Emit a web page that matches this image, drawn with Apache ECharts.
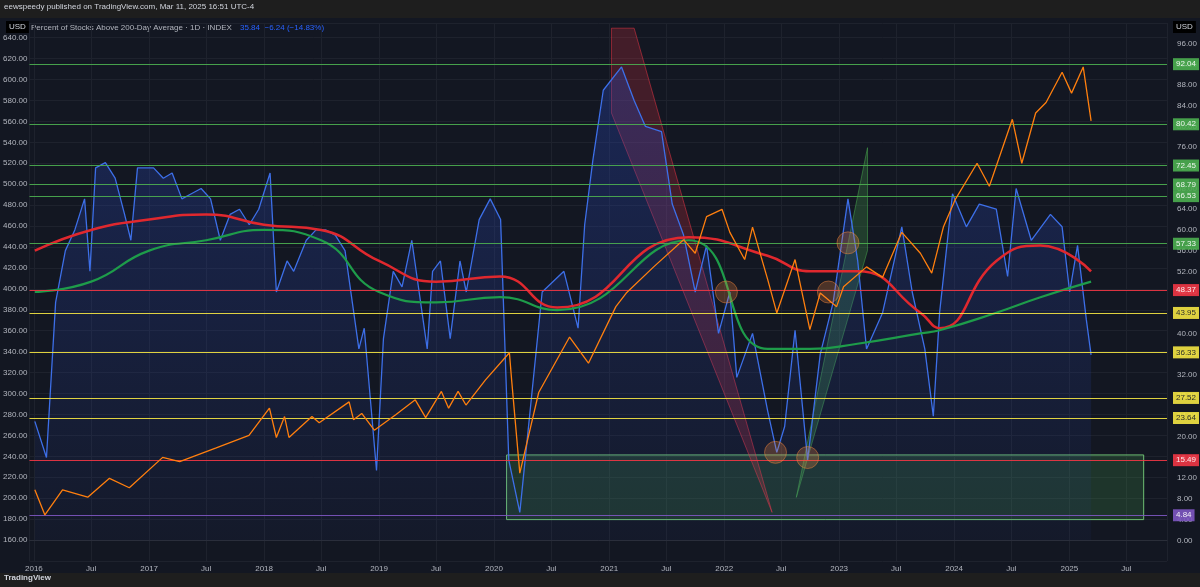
<!DOCTYPE html>
<html>
<head>
    <meta charset="UTF-8">
    <title></title>
    <script src="https://cdn.jsdelivr.net/npm/echarts@6/dist/echarts.min.js"></script>
    <style>
        body { margin: 0; background: #1e1e1e; }
        #main { width: 1200px; height: 587px; }
    </style>
</head>
<body>
<div id="main"></div>
<script>
    // percent of stocks above 200 day average (right axis)
    var breadthDates = ['2016-01-04','2016-02-10','2016-03-10','2016-04-10','2016-05-10','2016-06-10','2016-06-27','2016-07-15','2016-08-15','2016-09-15','2016-10-15','2016-11-04','2016-11-25','2016-12-15',
        '2017-01-15','2017-02-15','2017-03-15','2017-04-15','2017-05-15','2017-06-15','2017-07-15','2017-08-15','2017-09-15','2017-10-15','2017-11-15','2017-12-15',
        '2018-01-20','2018-02-09','2018-03-15','2018-04-05','2018-05-15','2018-06-15','2018-07-15','2018-08-15','2018-09-15','2018-10-29','2018-11-15','2018-12-24',
        '2019-01-15','2019-02-15','2019-03-15','2019-04-15','2019-06-03','2019-06-20','2019-07-15','2019-08-15','2019-09-15','2019-10-05','2019-11-15','2019-12-20',
        '2020-01-22','2020-02-17','2020-03-23','2020-06-02','2020-08-10','2020-09-24','2020-10-15','2020-11-10','2020-12-13',
        '2021-02-09','2021-03-21','2021-04-26','2021-06-16','2021-07-20','2021-08-25','2021-10-01','2021-11-06','2021-12-14',
        '2022-01-19','2022-02-10','2022-04-01','2022-05-19','2022-06-17','2022-07-12','2022-08-14','2022-09-23','2022-11-02','2022-12-13',
        '2023-01-29','2023-03-01','2023-03-29','2023-05-19','2023-07-19','2023-08-21','2023-09-30','2023-10-27','2023-11-16','2023-12-27',
        '2024-02-09','2024-03-21','2024-05-14','2024-06-19','2024-07-16','2024-09-02','2024-11-02','2024-12-09',
        '2025-01-02','2025-01-27','2025-02-24','2025-03-11'];
    var breadthValues = [23,16,46,56,60,66,52,72,73,70,63,58,72,72,
        72,70,71,66,67,68,66,58,63,64,61,64,
        71,48,54,52,58,60,60,59,56,37,41,13.5,
        39,52,49,58,37,52,54,39,54,48,62,66,
        62,15.5,5.4,48,52,41,61,73.5,87,
        91.5,85,80,79,65,59,48,57,40,
        48,31.5,40,25,17,22,40.6,15.5,36,46,
        66,54,37,44,60.6,48,37,24,44,67,
        60.6,65,64,51,68,58,63,60.6,
        48,57,42.6,35.84];

    // moving averages of breadth
    var maDates = ['2016-01-04','2016-07-01','2017-01-01','2017-07-01','2018-01-01','2018-07-01','2019-01-01','2019-07-01','2020-01-20','2020-07-20','2021-09-10','2022-05-19','2022-10-01','2023-02-28','2023-09-16','2023-11-16','2024-05-14','2024-10-01','2025-03-11'];
    var redMaValues = [56,60,62,63,61,60,54,50,51,45,58.6,55,52,52,44,41,54,57,52];
    var greenMaValues = [48,50,56,58,60,58,48,46,47,44.5,58,37,37,38,40,40.6,44,47,50];

    // index price (left axis)
    var priceDates = ['2016-01-04','2016-02-05','2016-04-01','2016-06-20','2016-08-28','2016-10-30','2017-02-13','2017-04-08','2017-08-02','2017-11-14',
        '2018-01-18','2018-02-09','2018-03-07','2018-03-21','2018-06-02','2018-06-25','2018-09-28','2018-10-12','2018-11-07','2018-12-17',
        '2019-02-24','2019-04-26','2019-05-29','2019-07-18','2019-08-10','2019-09-09','2019-10-04','2019-12-05',
        '2020-02-19','2020-02-26','2020-03-23','2020-05-22','2020-08-28','2020-10-27',
        '2021-01-22','2021-02-24','2021-05-22','2021-08-25','2021-10-01','2021-11-06','2021-12-25',
        '2022-01-19','2022-03-07','2022-04-01','2022-05-19','2022-06-17','2022-08-14','2022-09-30','2022-11-02','2022-12-24',
        '2023-01-15','2023-03-29','2023-05-19','2023-07-19','2023-09-16','2023-10-22','2023-11-28',
        '2024-01-04','2024-03-14','2024-04-22','2024-07-04','2024-08-03','2024-09-16','2024-10-19','2024-12-09',
        '2025-01-08','2025-02-14','2025-03-11'];
    var priceValues = [208,184,208,201,219,210,239,235,248,260,
        286,258,278,258,278,272,292,275,281,265,
        280,294,277,302,286,302,289,313,
        339,313,224,301,354,329,
        383,396,421,447,434,469,476,
        454,428,459,409,377,428,361,396,383,
        402,421,411,454,434,415,459,
        485,520,498,562,520,568,578,607,
        587,612,560.58];

    // level lines
    var greenLevels = [92.04,80.42,72.45,68.79,66.53,57.33];
    var redLevels = [48.37,15.49];
    var yellowLevels = [43.95,36.33,27.52,23.64];
    var purpleLevels = [4.84];

    // drawn triangles and circles
    var redTriangle = [['2021-01-08',99],['2021-03-21',99],['2022-06-02',5.4],['2021-01-08',82.6]];
    var greenTriangle = [['2022-08-18',8.3],['2023-04-01',75.9],['2023-04-01',56]];
    var circles = [['2022-01-08',48],['2022-06-13',17],['2022-09-23',16],['2022-11-28',48],['2023-01-29',57.5]];

    function pairs(d, v) { return d.map(function (x, i) { return [x, v[i]]; }); }

    function levelLines(vals, color) {
        return vals.map(function (v) {
            return {
                yAxis: v,
                lineStyle: { color: color, width: 1.2, type: 'solid', opacity: 0.9 },
                label: {
                    position: 'end', formatter: v.toFixed(2), color: color === '#f5e642' ? '#131722' : '#fff',
                    backgroundColor: color, padding: [2, 3], fontSize: 8, distance: 6
                }
            };
        });
    }

    function polygon(pts, fill, stroke) {
        return {
            type: 'custom', yAxisIndex: 1, silent: true, z: 1,
            data: [0],
            renderItem: function (params, api) {
                return {
                    type: 'polygon',
                    shape: { points: pts.map(function (p) { return api.coord([+new Date(p[0]), p[1]]); }) },
                    style: { fill: fill, stroke: stroke, lineWidth: 1 }
                };
            }
        };
    }

    var chart = echarts.init(document.getElementById('main'));
    chart.setOption({
        backgroundColor: '#1e1e1e',
        animation: false,
        graphic: [
            { type: 'rect', shape: { x: 0, y: 18, width: 1200, height: 555 }, style: { fill: '#131722' }, z: -10 },
            { type: 'text', left: 4, top: 3, style: { text: 'eewspeedy published on TradingView.com, Mar 11, 2025 16:51 UTC-4', fill: '#d1d4dc', font: '8px "Liberation Sans"' } },
            { type: 'text', left: 31, top: 24, style: { text: 'Percent of Stocks Above 200-Day Average · 1D · INDEX', fill: '#b2b5be', font: '8px "Liberation Sans"' } },
            { type: 'text', left: 240, top: 24, style: { text: '35.84  −6.24 (−14.83%)', fill: '#2962ff', font: '8px "Liberation Sans"' } },
            { type: 'text', left: 6, top: 21, style: { text: 'USD', fill: '#d1d4dc', font: '8px "Liberation Sans"', backgroundColor: '#000', padding: [2, 3] } },
            { type: 'text', left: 1173, top: 21, style: { text: 'USD', fill: '#d1d4dc', font: '8px "Liberation Sans"', backgroundColor: '#000', padding: [2, 3] } },
            { type: 'text', left: 4, top: 574, style: { text: 'TradingView', fill: '#d1d4dc', font: 'bold 8px "Liberation Sans"' } }
        ],
        grid: { left: 28, right: 32, top: 23, bottom: 26 },
        xAxis: {
            type: 'time',
            min: '2015-12-18', max: '2025-11-07',
            splitNumber: 20,
            axisLine: { lineStyle: { color: '#2a2e39' } },
            axisTick: { show: false },
            axisLabel: {
                color: '#b2b5be', fontSize: 8, margin: 4,
                formatter: function (v) {
                    var d = new Date(v);
                    if (d.getMonth() === 0) return String(d.getFullYear());
                    if (d.getMonth() === 6) return 'Jul';
                    return '';
                }
            },
            splitLine: { show: true, lineStyle: { color: '#1e222d' } }
        },
        yAxis: [
            {
                type: 'value', position: 'left', min: 140, max: 654, interval: 20,
                axisLine: { show: false }, axisTick: { show: false },
                axisLabel: { color: '#b2b5be', fontSize: 8, margin: 2,
                    formatter: function (v) { return (v < 150 || v > 645) ? '' : v.toFixed(2); } },
                splitLine: { lineStyle: { color: '#1e222d' } }
            },
            {
                type: 'value', position: 'right', min: -4, max: 100, interval: 4,
                axisLine: { show: false }, axisTick: { show: false },
                axisLabel: { color: '#b2b5be', fontSize: 8, margin: 10,
                    formatter: function (v) { return (v < 0 || v > 97) ? '' : v.toFixed(2); } },
                splitLine: { show: false }
            }
        ],
        series: [
            polygon(redTriangle, 'rgba(242,54,69,0.22)', 'rgba(242,54,69,0.5)'),
            polygon(greenTriangle, 'rgba(76,175,80,0.25)', 'rgba(76,175,80,0.5)'),
            {
                name: 'Breadth', type: 'line', yAxisIndex: 1, z: 3,
                data: pairs(breadthDates, breadthValues),
                symbol: 'none', lineStyle: { color: '#3d6fe8', width: 1.3 },
                areaStyle: { color: new echarts.graphic.LinearGradient(0, 0, 0, 1, [
                    { offset: 0, color: 'rgba(41,70,180,0.5)' }, { offset: 1, color: 'rgba(41,70,180,0.08)' }]) },
                markArea: {
                    silent: true,
                    itemStyle: { color: 'rgba(76,175,80,0.2)', borderColor: '#6fbf73', borderWidth: 1 },
                    data: [[{ xAxis: '2020-02-10', yAxis: 16.5 }, { xAxis: '2025-08-25', yAxis: 4.0 }]]
                },
                markLine: {
                    silent: true, symbol: 'none',
                    data: levelLines(greenLevels, '#4caf50')
                        .concat(levelLines(redLevels, '#f23645'))
                        .concat(levelLines(yellowLevels, '#f5e642'))
                        .concat(levelLines(purpleLevels, '#7e57c2'))
                        .concat([{ yAxis: 35.84, lineStyle: { opacity: 0 },
                            label: { position: 'end', formatter: '35.84', color: '#fff', backgroundColor: '#2962ff', padding: [2, 3], fontSize: 8, distance: 6, offset: [0, 5] } }])
                }
            },
            {
                name: 'MA red', type: 'line', yAxisIndex: 1, smooth: true, z: 4,
                data: pairs(maDates, redMaValues), symbol: 'none',
                lineStyle: { color: '#e0282e', width: 2.5 }
            },
            {
                name: 'MA green', type: 'line', yAxisIndex: 1, smooth: true, z: 4,
                data: pairs(maDates, greenMaValues), symbol: 'none',
                lineStyle: { color: '#1e9c4a', width: 2.2 }
            },
            {
                name: 'Price', type: 'line', yAxisIndex: 0, z: 5,
                data: pairs(priceDates, priceValues), symbol: 'none',
                lineStyle: { color: '#ff7f0e', width: 1.3 },
                markLine: {
                    silent: true, symbol: 'none',
                    data: [{ yAxis: 560.58, lineStyle: { opacity: 0 },
                        label: { position: 'start', formatter: '560.58', color: '#fff', backgroundColor: '#f57c00', padding: [2, 3], fontSize: 8, distance: 1 } }]
                }
            },
            {
                name: 'Circles', type: 'scatter', yAxisIndex: 1, z: 6,
                data: circles.map(function (c) { return [c[0], c[1]]; }),
                symbolSize: 22,
                itemStyle: { color: 'rgba(255,140,60,0.3)', borderColor: 'rgba(255,140,60,0.55)', borderWidth: 1 }
            }
        ]
    });
</script>
</body>
</html>
